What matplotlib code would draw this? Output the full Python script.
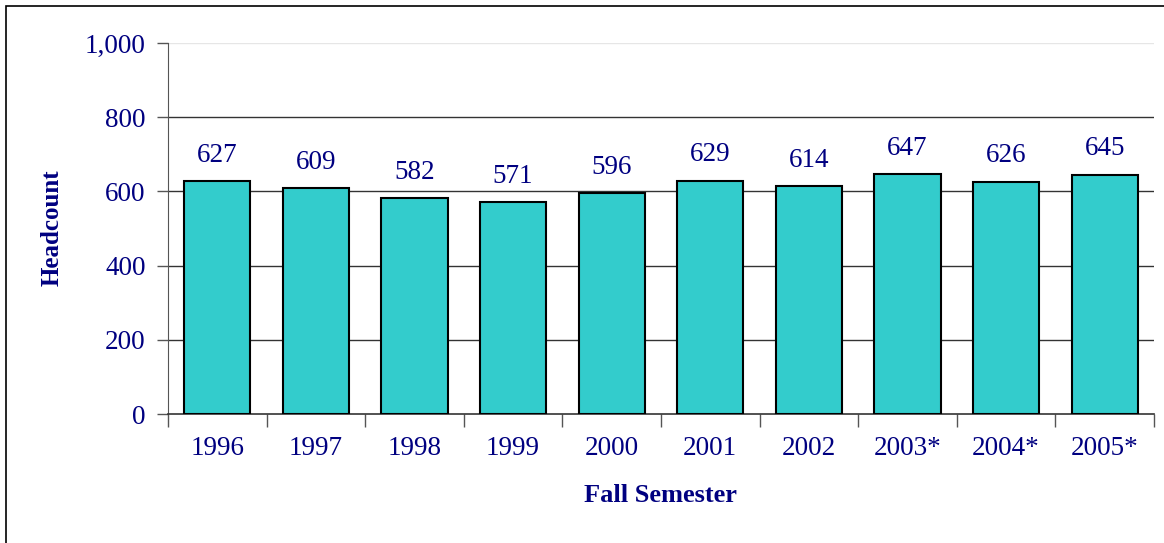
import matplotlib.pyplot as plt
from matplotlib.patches import Rectangle
from matplotlib.ticker import FuncFormatter

years = ['1996', '1997', '1998', '1999', '2000', '2001', '2002', '2003*', '2004*', '2005*']
headcount = [627, 609, 582, 571, 596, 629, 614, 647, 626, 645]

navy = '#000080'
plt.rcParams['font.family'] = ['Liberation Serif', 'DejaVu Serif']

fig = plt.figure(figsize=(11.64, 5.43), dpi=100)
ax = fig.add_axes([168 / 1164, 1 - 414 / 543, (1154 - 168) / 1164, (414 - 43) / 543])

x = list(range(len(years)))
bars = ax.bar(x, headcount, width=0.67, color='#33CCCC', edgecolor='black', linewidth=1.5, zorder=3)

for xi, v in zip(x, headcount):
    ax.text(xi, v + 36, str(v), ha='center', va='bottom', fontsize=19.5, color=navy)

ax.set_xlim(-0.5, len(years) - 0.5)
ax.set_ylim(0, 1000)
ax.set_yticks([0, 200, 400, 600, 800, 1000])
ax.yaxis.set_major_formatter(FuncFormatter(lambda v, p: f'{int(v):,}'))
for yv in [200, 400, 600, 800]:
    ax.axhline(yv, color='#333333', linewidth=1, zorder=1)
ax.axhline(1000, color='#e6e6e6', linewidth=1, zorder=1)

ax.set_xticks(x)
ax.set_xticklabels(years)
ax.set_xticks([i + 0.5 for i in range(-1, len(years))], minor=True)
ax.tick_params(axis='x', which='major', length=0, pad=16, labelsize=19.5, labelcolor=navy)
ax.tick_params(axis='x', which='minor', length=9, width=1, color='#555555', direction='out')
ax.tick_params(axis='y', length=8, width=1, color='#555555', labelsize=19.5, labelcolor=navy, pad=8)

for s in ['top', 'right']:
    ax.spines[s].set_visible(False)
ax.spines['left'].set_color('#555555')
ax.spines['bottom'].set_color('#333333')
ax.spines['bottom'].set_linewidth(1.2)

fig.text(660 / 1164, 1 - 495 / 543, 'Fall Semester', ha='center', va='center',
         fontsize=19, fontweight='bold', color=navy)
fig.text(52 / 1164, 1 - 228 / 543, 'Headcount', ha='center', va='center', rotation=90,
         fontsize=18, fontweight='bold', color=navy)

fig.patches.append(Rectangle((6 / 1164, -0.1), 1.2, 1 - 6 / 543 + 0.1, transform=fig.transFigure,
                             fill=False, edgecolor='black', linewidth=1.2))

fig.savefig('out.png', dpi=100)
